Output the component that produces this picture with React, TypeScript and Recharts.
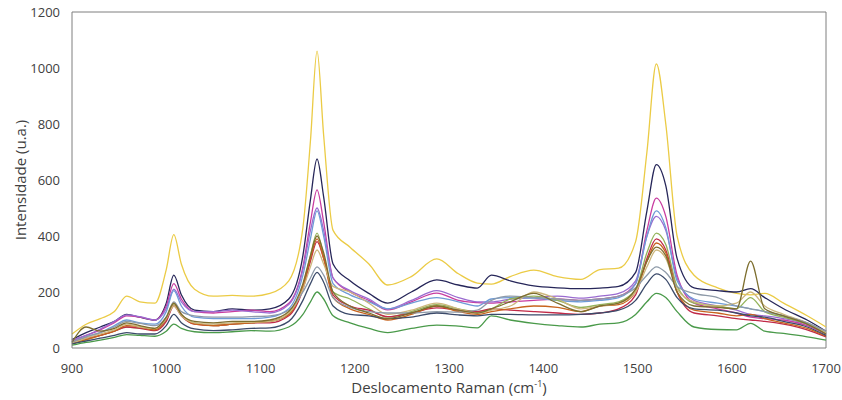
import React from "react";
import { LineChart, Line, XAxis, YAxis, Label, ReferenceLine } from "recharts";

// Raman shift (cm-1) sample positions shared by every spectrum
const SHIFT = [
  900, 915, 930, 945, 958, 972, 988, 1000, 1008, 1016, 1030, 1050, 1070, 1090, 1110, 1130,
  1145, 1153, 1160, 1167, 1177, 1195, 1215, 1235, 1260, 1287, 1310, 1330, 1345, 1365, 1390,
  1415, 1440, 1460, 1480, 1498, 1510, 1520, 1530, 1542, 1560, 1585, 1605, 1620, 1635, 1655,
  1680, 1700,
];

const YELLOW = [
  50, 85, 105, 130, 185, 165, 160, 280, 405, 300, 210, 185, 188, 185, 195, 240,
  430, 740, 1060, 760, 420, 360, 300, 225, 255, 318, 265, 232, 228, 255, 278,
  255, 245, 280, 285, 380, 700, 1015, 800, 400, 260, 215, 195, 190, 195, 160,
  115, 75,
];
const NAVY = [
  30, 55, 75, 95, 120, 110, 100, 160, 260, 190, 135, 130, 140, 135, 140, 175,
  330, 530, 675, 540, 300, 240, 195, 160, 200, 243, 225, 214, 260, 240, 222,
  215, 212, 214, 220, 270, 490, 655, 580, 320, 215, 205, 200, 212, 180, 140,
  100, 60,
];
const MAGENTA = [
  25, 45, 65, 90, 115, 110, 100, 150, 230, 175, 130, 125, 130, 135, 130, 160,
  290, 450, 565, 450, 250, 200, 170, 136, 165, 196, 170, 162, 160, 165, 170,
  175, 170, 175, 185, 230, 420, 535, 470, 260, 160, 140, 125, 110, 105, 100,
  80, 50,
];
const PURPLE = [
  28, 45, 68, 95, 118, 112, 100, 140, 210, 165, 130, 130, 135, 130, 125, 155,
  280, 420, 500, 420, 250, 205, 175, 140, 170, 205, 180, 165, 165, 175, 180,
  185, 178, 185, 195, 240, 400, 470, 420, 250, 170, 150, 135, 120, 115, 105,
  85, 55,
];
const BLUE = [
  20, 40, 55, 80, 100, 90, 85, 130, 205, 150, 110, 105, 105, 105, 110, 140,
  260, 390, 490, 400, 230, 190, 165, 140, 160, 180, 165, 150, 175, 180, 178,
  170, 165, 170, 180, 230, 400, 490, 430, 240, 175, 160, 150, 140, 130, 115,
  90, 55,
];
const OLIVE_GREEN = [
  15, 30, 45, 60, 75, 70, 65, 100, 155, 120, 90, 80, 85, 90, 95, 120,
  220, 330, 410, 330, 200, 175, 140, 110, 130, 155, 140, 130, 140, 175, 185,
  170, 145, 155, 165, 210, 340, 410, 370, 220, 160, 150, 140, 180, 130, 110,
  85, 55,
];
const RED = [
  20, 35, 45, 60, 75, 70, 62, 95, 150, 115, 85, 80, 85, 90, 90, 115,
  210, 310, 380, 320, 190, 150, 135, 112, 125, 143, 135, 130, 140, 135, 130,
  125, 120, 125, 140, 190, 320, 390, 350, 200, 125, 115, 105, 100, 95, 85,
  65, 40,
];
const ORANGE = [
  15, 30, 45, 60, 80, 75, 65, 105, 160, 120, 85, 80, 85, 90, 95, 120,
  220, 320, 390, 320, 180, 140, 120, 100, 120, 150, 130, 120, 130, 140, 150,
  145, 130, 150, 155, 200, 310, 375, 340, 200, 135, 125, 115, 120, 105, 90,
  70, 42,
];
const TAN = [
  18, 35, 50, 65, 85, 75, 70, 105, 150, 115, 90, 85, 90, 92, 95, 125,
  210, 290, 350, 300, 220, 200, 160, 120, 135, 160, 140, 125, 135, 150, 200,
  175, 140, 150, 160, 200, 290, 350, 320, 210, 165, 150, 160, 200, 150, 120,
  90, 55,
];
const GRAY = [
  22, 40, 55, 75, 95, 88, 80, 110, 165, 130, 115, 110, 110, 112, 115, 135,
  200, 250, 290, 260, 180, 145, 130, 125, 125, 130, 128, 135, 170, 185, 180,
  175, 170, 175, 185, 215, 260, 290, 270, 220, 195, 180, 150, 140, 130, 115,
  90, 60,
];
const SLATE = [
  15, 25, 35, 45, 55, 50, 50, 80, 120, 90, 68, 62, 65, 70, 72, 95,
  170, 230, 270, 235, 150, 120, 115, 105, 110, 125, 118, 115, 120, 120, 118,
  118, 120, 125, 135, 170, 230, 265, 245, 180, 140, 135, 125, 115, 110, 95,
  75, 45,
];
const GREEN = [
  10, 20, 28, 38, 48, 45, 42, 60, 85, 70, 58, 55, 58, 62, 60, 75,
  120, 165, 200, 175, 115, 90, 70, 55, 70, 82, 78, 72, 115, 100, 88,
  80, 75, 85, 90, 120, 165, 195, 180, 130, 75, 66, 65, 88, 60, 52,
  40, 28,
];
const DARK_OLIVE = [
  20, 75, 60, 70, 90, 80, 70, 110, 160, 120, 95, 90, 95, 95, 100, 130,
  230, 330, 400, 340, 200, 150, 125, 105, 125, 150, 135, 125, 140, 165, 195,
  160, 130, 150, 160, 210, 310, 360, 330, 200, 150, 145, 140, 310, 140, 115,
  85, 50,
];

const X_TICKS = [900, 1000, 1100, 1200, 1300, 1400, 1500, 1600, 1700];
const Y_TICKS = [0, 200, 400, 600, 800, 1000, 1200];

const SERIES = [
  { key: "s1", values: YELLOW, color: "#EBCB45" },
  { key: "s2", values: NAVY, color: "#262659" },
  { key: "s3", values: MAGENTA, color: "#C83CA0" },
  { key: "s4", values: PURPLE, color: "#9A6BD0" },
  { key: "s5", values: BLUE, color: "#6E9BD6" },
  { key: "s6", values: OLIVE_GREEN, color: "#93B35A" },
  { key: "s7", values: RED, color: "#C02A48" },
  { key: "s8", values: ORANGE, color: "#C8641E" },
  { key: "s9", values: TAN, color: "#CDB77C" },
  { key: "s10", values: GRAY, color: "#8E9AA8" },
  { key: "s11", values: SLATE, color: "#3B4A6A" },
  { key: "s12", values: GREEN, color: "#4A9A4A" },
  { key: "s13", values: DARK_OLIVE, color: "#7D6E2E" },
];

const data = SHIFT.map((x, i) => {
  const row: Record<string, number> = { x };
  SERIES.forEach((s) => (row[s.key] = s.values[i]));
  return row;
});

const FONT = "'Open Sans', sans-serif";
const TEXT = "#404040";
const BORDER = "#7F7F7F";
const tick = { fontSize: 13, fill: TEXT, fontFamily: FONT };

const XTitle = (props: any) => {
  const vb = props.viewBox || { x: 72, y: 348, width: 754 };
  return (
    <text
      x={vb.x + vb.width / 2}
      y={vb.y + 45}
      textAnchor="middle"
      fontSize={15}
      fontFamily={FONT}
      fill={TEXT}
    >
      Deslocamento Raman (cm
      <tspan fontSize={9} dy={-6}>-1</tspan>
      <tspan dy={6}>)</tspan>
    </text>
  );
};

const YTitle = () => (
  <text
    x={26}
    y={180}
    transform="rotate(-90 26 180)"
    textAnchor="middle"
    fontSize={15}
    fontFamily={FONT}
    fill={TEXT}
  >
    Intensidade (u.a.)
  </text>
);

export default function App() {
  return (
    <div style={{ position: "fixed", left: 0, top: 0, width: 842, height: 400, background: "#fff" }}>
      <LineChart width={842} height={400} data={data} margin={{ top: 12, right: 16, bottom: 22, left: 10 }}>
        <XAxis
          dataKey="x"
          type="number"
          domain={[900, 1700]}
          ticks={X_TICKS}
          tick={tick}
          tickLine={false}
          tickMargin={10}
          height={30}
          axisLine={{ stroke: BORDER }}
        >
          <Label content={XTitle} />
        </XAxis>
        <YAxis
          type="number"
          domain={[0, 1200]}
          ticks={Y_TICKS}
          tick={tick}
          tickLine={false}
          tickMargin={6}
          width={62}
          axisLine={{ stroke: BORDER }}
        >
          <Label content={YTitle} />
        </YAxis>
        <ReferenceLine y={1200} stroke={BORDER} />
        <ReferenceLine x={1700} stroke={BORDER} />
        {SERIES.map((s) => (
          <Line
            key={s.key}
            dataKey={s.key}
            type="monotone"
            stroke={s.color}
            strokeWidth={1.3}
            dot={false}
            isAnimationActive={false}
          />
        ))}
      </LineChart>
    </div>
  );
}
